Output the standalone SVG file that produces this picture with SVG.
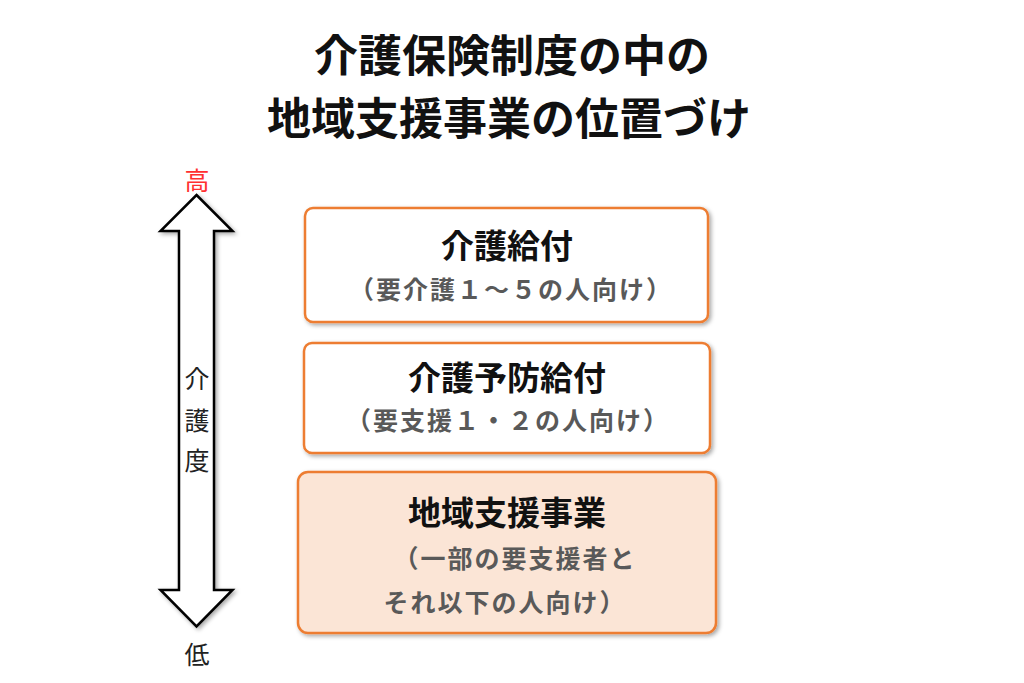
<svg xmlns="http://www.w3.org/2000/svg" width="1024" height="683" viewBox="0 0 1024 683">
<defs>
<filter id="sh" x="-10%" y="-10%" width="130%" height="130%">
<feDropShadow dx="2" dy="2" stdDeviation="2" flood-color="#000" flood-opacity="0.35"/>
</filter>
<style>
text{font-family:"Noto Sans CJK JP","Noto Sans CJK SC",sans-serif;text-anchor:middle}
.title{font-size:44px;font-weight:bold;fill:#111}
.box{stroke:#ED7D31;stroke-width:2.5;filter:url(#sh)}
.h{font-size:33px;font-weight:bold;fill:#111}
.s{font-size:25px;font-weight:bold;fill:#595959;letter-spacing:2px}
.lab{font-size:25px;fill:#222}
</style>
</defs>
<rect width="1024" height="683" fill="#fff"/>
<g id="title">
<text class="title" x="512" y="72">介護保険制度の中の</text>
<text class="title" x="509" y="135">地域支援事業の位置づけ</text>
</g>
<g id="axis">
<path d="M196.5,195 L232.5,231 L214,231 L214,590 L232.5,590 L196.5,626.5 L160.5,590 L179,590 L179,231 L160.5,231 Z" fill="#fff" stroke="#000" stroke-width="2.5" stroke-linejoin="miter" filter="url(#sh)"/>
<text class="lab" x="197" y="190" style="fill:#ff3030">高</text>
<text class="lab" x="197" y="388">介</text>
<text class="lab" x="197" y="430">護</text>
<text class="lab" x="197" y="470">度</text>
<text class="lab" x="197" y="664">低</text>
</g>
<g id="kaigo-kyufu">
<rect class="box" x="305" y="208" width="403" height="114" rx="8" fill="#fff"/>
<text class="h" x="507" y="258">介護給付</text>
<text class="s" x="511" y="299">（要介護１～５の人向け）</text>
</g>
<g id="yobo-kyufu">
<rect class="box" x="304" y="343" width="406" height="110" rx="8" fill="#fff"/>
<text class="h" x="507" y="390">介護予防給付</text>
<text class="s" x="508" y="430">（要支援１・２の人向け）</text>
</g>
<g id="chiiki">
<rect class="box" x="298" y="472" width="418" height="161" rx="10" fill="#FBE5D6"/>
<text class="h" x="507" y="525">地域支援事業</text>
<text class="s" x="515" y="568">（一部の要支援者と</text>
<text class="s" x="505" y="612">それ以下の人向け）</text>
</g>
<g id="connectors"/>
</svg>
